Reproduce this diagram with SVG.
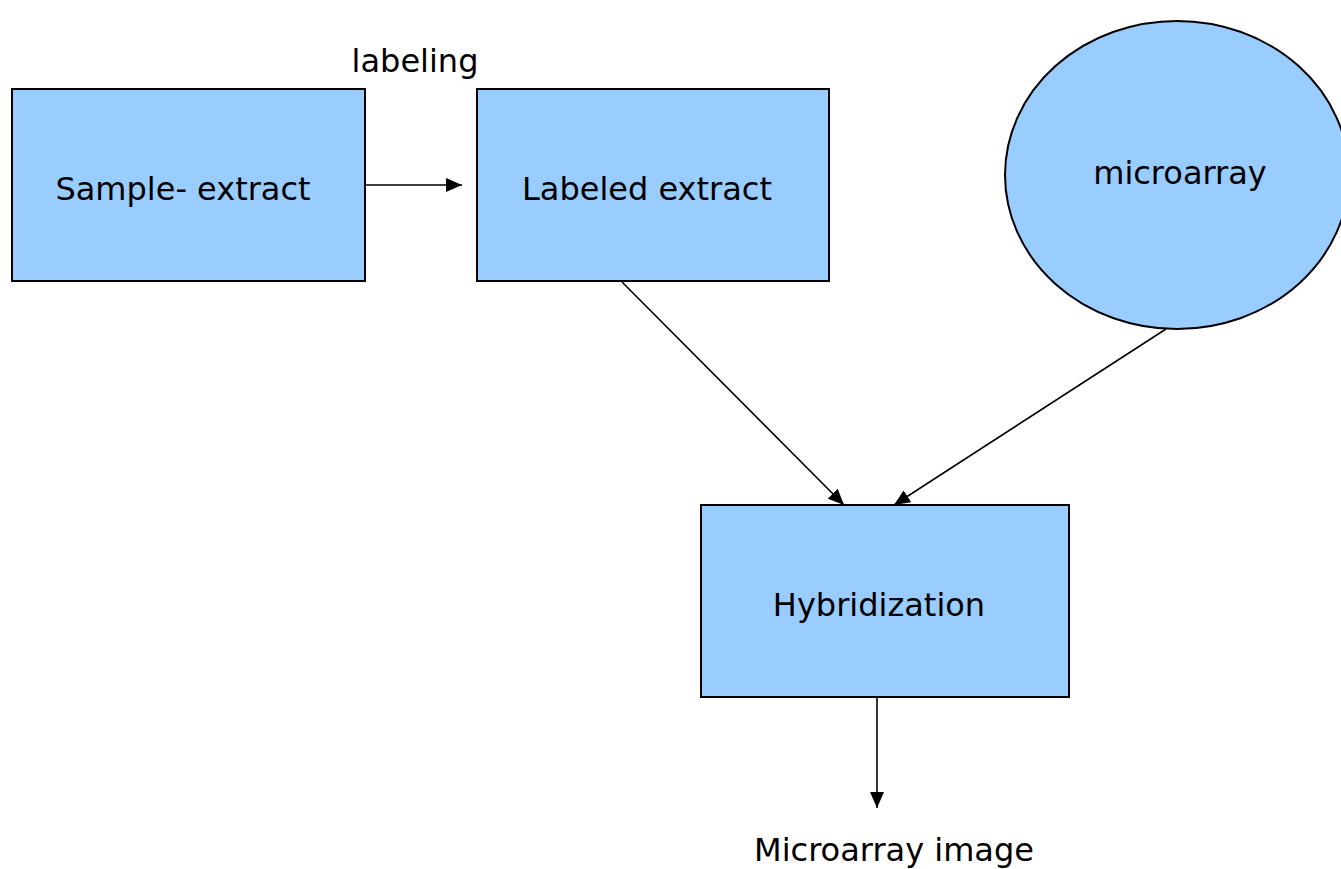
<svg xmlns="http://www.w3.org/2000/svg" width="1341" height="869" viewBox="0 0 1341 869">
  <style>
    .node { fill: #99ccff; stroke: #000; stroke-width: 2; }
    .label { font-family: "DejaVu Sans", Verdana, sans-serif; font-size: 32px; fill: #000; text-anchor: middle; }
    .edge { stroke: #000; stroke-width: 1.6; fill: none; marker-end: url(#arrow); }
  </style>
  <defs>
    <marker id="arrow" viewBox="0 0 16 14" refX="16" refY="7" markerWidth="16" markerHeight="14" markerUnits="userSpaceOnUse" orient="auto">
      <path d="M0,0 L16,7 L0,14 z" fill="#000"/>
    </marker>
  </defs>
  <rect width="1341" height="869" fill="#fff"/>

  <g id="connectors">
    <line class="edge" x1="366" y1="185" x2="462" y2="185"/>
    <line class="edge" x1="622" y1="282" x2="844" y2="505"/>
    <line class="edge" x1="1166" y1="329" x2="894" y2="505"/>
    <line class="edge" x1="877" y1="698" x2="877" y2="808"/>
  </g>

  <g id="sample-extract">
    <rect class="node" x="12" y="89" width="353" height="192"/>
    <text class="label" x="183" y="200">Sample- extract</text>
  </g>

  <g id="labeled-extract">
    <rect class="node" x="477" y="89" width="352" height="192"/>
    <text class="label" x="647" y="200">Labeled extract</text>
  </g>

  <g id="labeling">
    <text class="label" x="415" y="72">labeling</text>
  </g>

  <g id="microarray">
    <ellipse class="node" cx="1177" cy="175" rx="172" ry="154"/>
    <text class="label" x="1180" y="184">microarray</text>
  </g>

  <g id="hybridization">
    <rect class="node" x="701" y="505" width="368" height="192"/>
    <text class="label" x="879" y="616">Hybridization</text>
  </g>

  <g id="microarray-image">
    <text class="label" x="894" y="861">Microarray image</text>
  </g>
</svg>
